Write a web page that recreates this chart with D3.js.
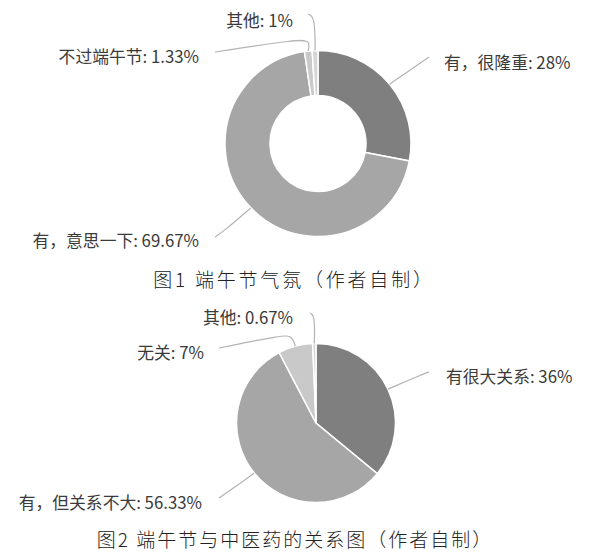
<!DOCTYPE html>
<html>
<head>
<meta charset="utf-8">
<script src="https://cdn.jsdelivr.net/npm/d3@7"></script>
<style>
    body { margin: 0; background: #fff; }
    svg { display: block; }
</style>
</head>
<body>
<script>
// Figure 1 data
const fig1Labels = ["有，很隆重", "有，意思一下", "不过端午节", "其他"];
const fig1Values = [28, 69.67, 1.33, 1];
const fig1Caption = "图1 端午节气氛（作者自制）";

// Figure 2 data
const fig2Labels = ["有很大关系", "有，但关系不大", "无关", "其他"];
const fig2Values = [36, 56.33, 7, 0.67];
const fig2Caption = "图2 端午节与中医药的关系图（作者自制）";

const shades = ["#7f7f7f", "#a6a6a6", "#c9c9c9", "#d6d6d6"];

const width = 600;
const height = 557;

const svg = d3.select("body")
    .append("svg")
    .attr("width", width)
    .attr("height", height);

class PieChart {
    constructor(opts) {
        this.labels = opts.labels;
        this.values = opts.values;
        this.cx = opts.cx;
        this.cy = opts.cy;
        this.outer = opts.outer;
        this.inner = opts.inner;
        this.callouts = opts.callouts;
        this.caption = opts.caption;
        this.draw();
    }

    draw() {
        const data = this.labels.map((label, i) => ({ label: label, value: this.values[i] }));
        const pie = d3.pie().sort(null).value(d => d.value);
        const arcs = pie(data);

        const arc = d3.arc().innerRadius(this.inner).outerRadius(this.outer);
        // radius used to find where a leader leaves the slice
        const edge = d3.arc().innerRadius(this.outer).outerRadius(this.outer);
        const leader = d3.line().curve(d3.curveBasis);

        const g = svg.append("g");

        g.append("g")
            .attr("transform", `translate(${this.cx},${this.cy})`)
            .selectAll("path")
            .data(arcs)
            .join("path")
            .attr("d", arc)
            .attr("fill", (d, i) => shades[i])
            .attr("stroke", "#fff")
            .attr("stroke-width", 1.5);

        // leader lines
        g.selectAll("path.leader")
            .data(arcs)
            .join("path")
            .attr("class", "leader")
            .attr("d", (d, i) => {
                const c = edge.centroid(d);
                const start = [this.cx + c[0], this.cy + c[1]];
                return leader([start].concat(this.callouts[i].via));
            })
            .attr("fill", "none")
            .attr("stroke", "#b3b3b3")
            .attr("stroke-width", 1.2);

        // labels
        g.selectAll("text.label")
            .data(arcs)
            .join("text")
            .attr("class", "label")
            .attr("x", (d, i) => this.callouts[i].x)
            .attr("y", (d, i) => this.callouts[i].y)
            .attr("dy", "0.35em")
            .attr("text-anchor", (d, i) => this.callouts[i].anchor)
            .style("font-family", "'Noto Sans CJK SC', 'Noto Sans', sans-serif")
            .style("font-size", "16.8px")
            .style("fill", "#3a3a3a")
            .text(d => `${d.data.label}: ${d.data.value}%`);

        g.append("text")
            .attr("x", this.caption.x)
            .attr("y", this.caption.y)
            .attr("dy", "0.35em")
            .attr("text-anchor", "middle")
            .style("font-family", "'Noto Sans CJK SC', serif")
            .style("font-weight", 300)
            .style("font-size", "19px")
            .style("letter-spacing", this.caption.spacing)
            .style("fill", "#222")
            .text(this.caption.text);
    }
}

new PieChart({
    labels: fig1Labels,
    values: fig1Values,
    cx: 318, cy: 143.5, outer: 93, inner: 48,
    callouts: [
        { x: 444, y: 63, anchor: "start", via: [[423, 61], [429, 57]] },
        { x: 199, y: 241, anchor: "end", via: [[224, 231], [215, 237]] },
        { x: 199, y: 57, anchor: "end", via: [[310, 41], [300, 39], [215, 52]] },
        { x: 293, y: 21, anchor: "end", via: [[315, 17], [308, 14]] }
    ],
    caption: { x: 294, y: 280, text: fig1Caption, spacing: "2.8px" }
});

new PieChart({
    labels: fig2Labels,
    values: fig2Values,
    cx: 316, cy: 423, outer: 79.5, inner: 0,
    callouts: [
        { x: 446, y: 377, anchor: "start", via: [[423, 374], [429, 372]] },
        { x: 202, y: 503, anchor: "end", via: [[228, 492], [219, 498]] },
        { x: 204, y: 353, anchor: "end", via: [[292, 336], [283, 335], [219, 348]] },
        { x: 293, y: 318, anchor: "end", via: [[315, 316], [310, 313]] }
    ],
    caption: { x: 295, y: 540, text: fig2Caption, spacing: "2px" }
});
</script>
</body>
</html>
